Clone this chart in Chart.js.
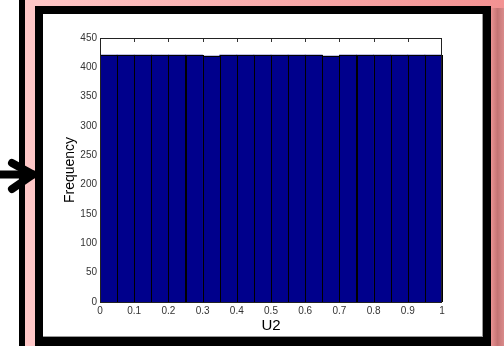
<!DOCTYPE html>
<html>
<head>
<meta charset="utf-8">
<script src="https://cdn.jsdelivr.net/npm/chart.js@4/dist/chart.umd.min.js"></script>
<style>
  html, body { margin: 0; padding: 0; background: #fff; }
  #wrap { position: relative; width: 504px; height: 346px; }
  canvas { display: block; }
</style>
</head>
<body>
<div id="wrap"><canvas id="c" width="504" height="346"></canvas></div>
<script>
// ---- data ----
const binCenters = [0.025, 0.075, 0.125, 0.175, 0.225, 0.275, 0.325, 0.375, 0.425, 0.475,
                    0.525, 0.575, 0.625, 0.675, 0.725, 0.775, 0.825, 0.875, 0.925, 0.975];
const frequency  = [421, 421, 421, 421, 421, 421, 419, 421, 421, 421,
                    421, 421, 421, 419, 421, 421, 421, 421, 421, 421];
const xTicks = [0, 0.1, 0.2, 0.3, 0.4, 0.5, 0.6, 0.7, 0.8, 0.9, 1];
const xTickLabels = ['0', '0.1', '0.2', '0.3', '0.4', '0.5', '0.6', '0.7', '0.8', '0.9', '1'];
const yTicks = [0, 50, 100, 150, 200, 250, 300, 350, 400, 450];
const xTitle = 'U2';
const yTitle = 'Frequency';

const FONT = '"Liberation Sans", Arial, Helvetica, sans-serif';

const framePlugin = {
  id: 'frame',
  beforeDraw(chart) {
    const c = chart.ctx;
    c.save();
    c.fillStyle = '#fff';
    c.fillRect(0, 0, 504, 346);
    // pink gradient panel
    const g = c.createLinearGradient(25, 0, 504, 0);
    g.addColorStop(0, '#ffc8c8');
    g.addColorStop(1, '#f39292');
    c.fillStyle = g;
    c.fillRect(25, 0, 479, 346);
    // right shadow strip
    const g2 = c.createLinearGradient(491, 0, 504, 0);
    g2.addColorStop(0, '#eb9393');
    g2.addColorStop(0.5, '#c57474');
    g2.addColorStop(1, '#d98a8a');
    c.fillStyle = g2;
    c.fillRect(491, 8, 13, 338);
    // outer left black line
    c.fillStyle = '#000';
    c.fillRect(19, 0, 6, 346);
    // inner black frame
    c.fillRect(35, 6, 456, 340);
    // white panel
    c.fillStyle = '#fff';
    c.fillRect(43, 14, 440, 323);
    c.fillStyle = '#9a9a9a';
    c.fillRect(482, 14, 1, 323);
    c.fillRect(43, 336, 440, 1);
    // arrow
    c.strokeStyle = '#000';
    c.lineCap = 'round';
    c.lineJoin = 'round';
    c.lineWidth = 8;
    c.beginPath();
    c.moveTo(-4, 174.5);
    c.lineTo(33, 174.5);
    c.stroke();
    c.beginPath();
    c.moveTo(12, 163);
    c.lineTo(33, 174.5);
    c.lineTo(12, 189);
    c.stroke();
    c.restore();
  },
  beforeDatasetsDraw(chart) {
    const c = chart.ctx;
    const a = chart.chartArea;
    const xs = chart.scales.x, ys = chart.scales.y;
    c.save();
    c.strokeStyle = '#333';
    c.lineWidth = 1;
    c.beginPath();
    xTicks.slice(1, -1).forEach(v => {
      const p = Math.round(xs.getPixelForValue(v)) + 0.5;
      c.moveTo(p, a.top); c.lineTo(p, a.top + 4);
      c.moveTo(p, a.bottom); c.lineTo(p, a.bottom - 4);
    });
    yTicks.slice(1, -1).forEach(v => {
      const p = Math.round(ys.getPixelForValue(v)) + 0.5;
      c.moveTo(a.left, p); c.lineTo(a.left + 4, p);
      c.moveTo(a.right, p); c.lineTo(a.right - 4, p);
    });
    c.stroke();
    c.restore();
  },
  afterDatasetsDraw(chart) {
    const c = chart.ctx;
    const a = chart.chartArea;
    c.save();
    // crisp 1px bar edges, taken from the library's bar elements
    c.fillStyle = '#000';
    const meta = chart.getDatasetMeta(0);
    meta.data.forEach(el => {
      const p = el.getProps(['x', 'y', 'base', 'width'], true);
      const l = Math.round(p.x - p.width / 2);
      const r = Math.round(p.x + p.width / 2);
      const t = Math.round(p.y);
      const b = Math.round(p.base);
      c.fillRect(l, t, 1, b - t);
      c.fillRect(r, t, 1, b - t);
      c.fillRect(l, t, r - l + 1, 1);
    });
    c.strokeStyle = '#222';
    c.lineWidth = 1;
    c.strokeRect(a.left + 0.5, a.top + 0.5, a.right - a.left - 1, a.bottom - a.top);
    c.restore();
  }
};

new Chart(document.getElementById('c'), {
  type: 'bar',
  data: {
    datasets: [{
      data: binCenters.map((x, i) => ({ x: x, y: frequency[i] })),
      backgroundColor: '#00008c',
      borderWidth: 0,
      barPercentage: 1,
      categoryPercentage: 1
    }]
  },
  options: {
    responsive: false,
    animation: false,
    events: [],
    layout: { padding: { left: 0, top: 38, right: 62, bottom: 0 } },
    plugins: { legend: { display: false }, tooltip: { enabled: false }, title: { display: false } },
    scales: {
      x: {
        type: 'linear',
        min: 0, max: 1,
        offset: false,
        grid: { display: false, drawTicks: false, offset: false },
        border: { display: false },
        afterBuildTicks: s => { s.ticks = xTicks.map(v => ({ value: v })); },
        afterFit: s => { s.height = 44; },
        ticks: {
          padding: 3,
          maxRotation: 0,
          autoSkip: false,
          color: '#333',
          font: { family: FONT, size: 10 },
          callback: (v, i) => xTickLabels[i]
        },
        title: {
          display: true, text: xTitle, color: '#000',
          font: { family: FONT, size: 15 },
          padding: { top: 0, bottom: 11 }
        }
      },
      y: {
        min: 0, max: 450,
        grid: { display: false, drawTicks: false },
        border: { display: false },
        afterBuildTicks: s => { s.ticks = yTicks.map(v => ({ value: v })); },
        afterFit: s => { s.width = 100; },
        ticks: {
          padding: 3,
          autoSkip: false,
          color: '#333',
          font: { family: FONT, size: 10 },
          callback: v => String(v)
        },
        title: {
          display: true, text: yTitle, color: '#000',
          font: { family: FONT, size: 14 },
          padding: { top: 62, bottom: 0 }
        }
      }
    }
  },
  plugins: [framePlugin]
});
</script>
</body>
</html>
